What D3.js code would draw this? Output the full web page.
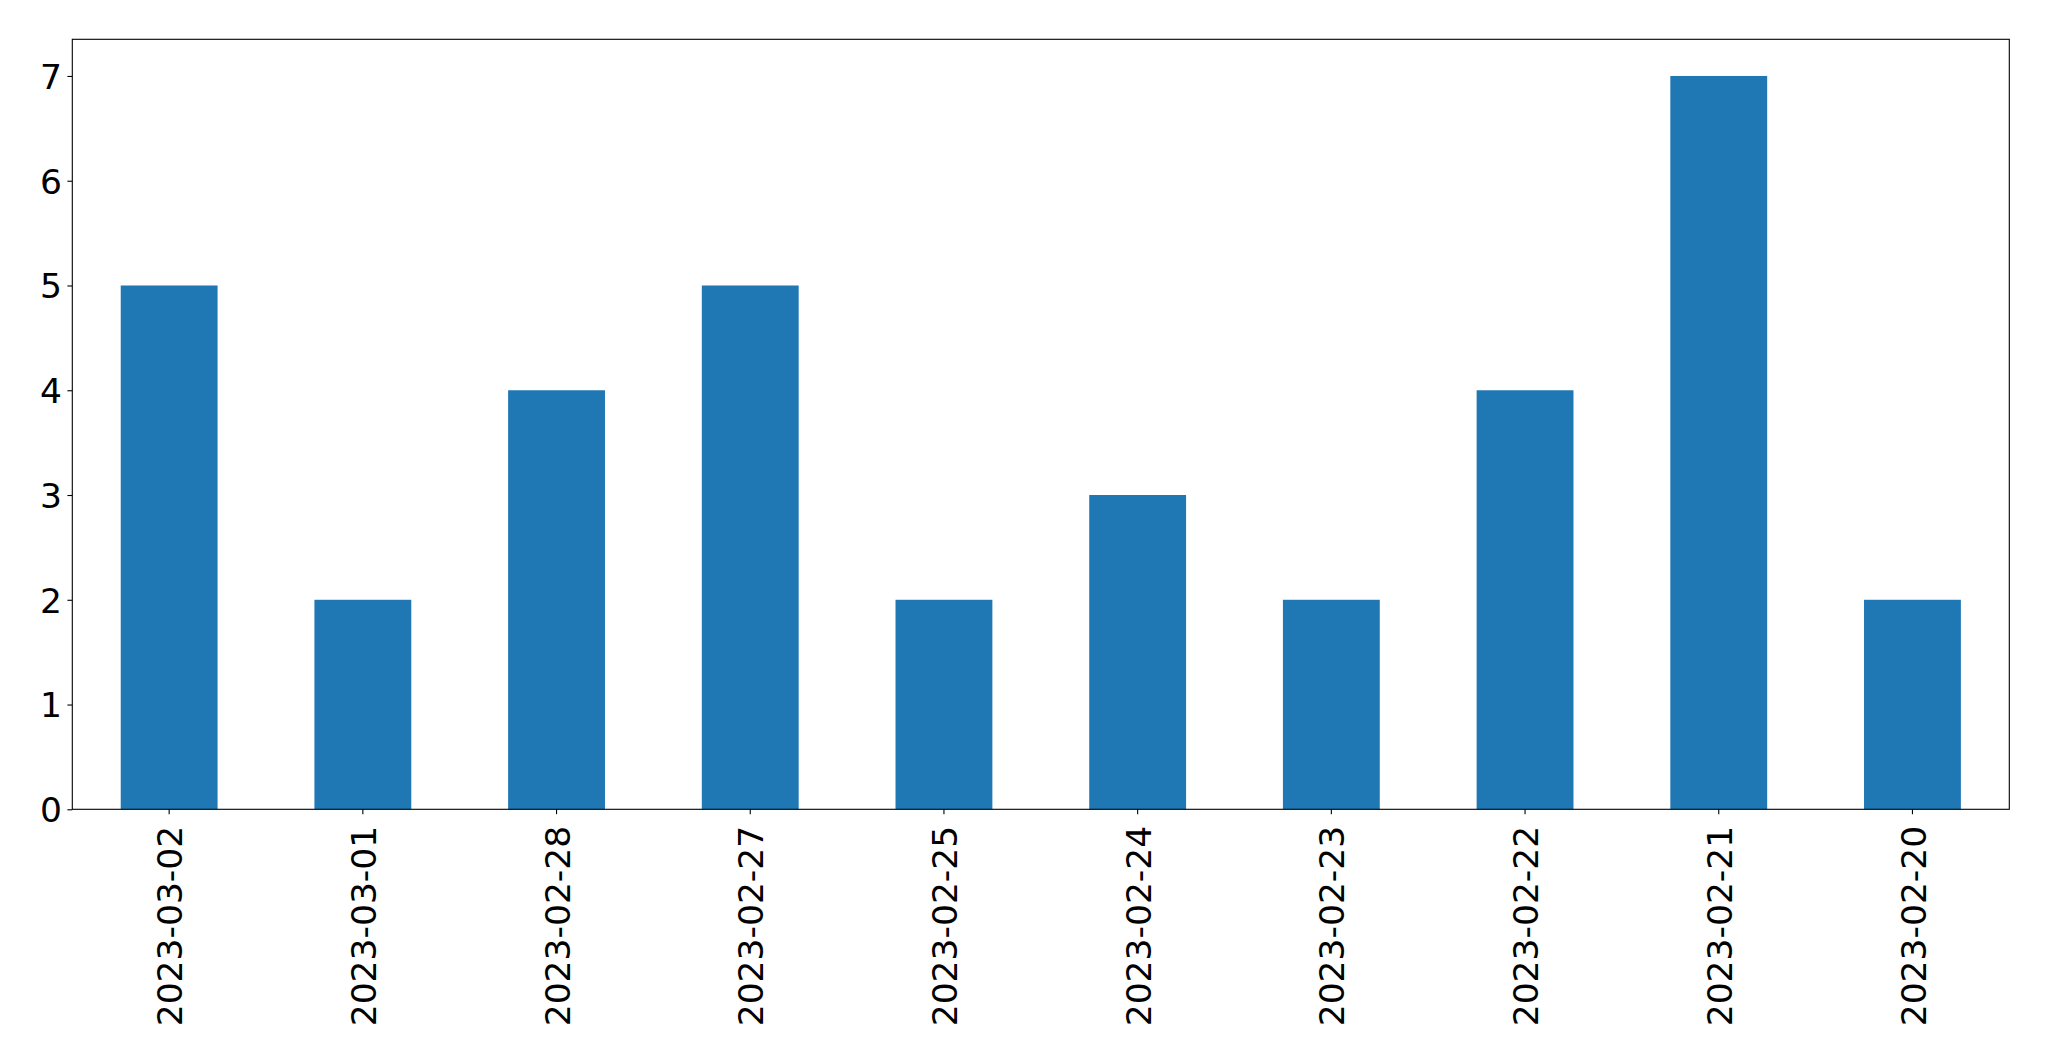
<!DOCTYPE html>
<html><head><meta charset="utf-8">
<script src="https://cdn.jsdelivr.net/npm/d3@7"></script>
<style>body{margin:0;background:#fff}svg{display:block}text{font-family:"DejaVu Sans",sans-serif}</style>
</head><body>
<script>
const categories = ["2023-03-02","2023-03-01","2023-02-28","2023-02-27","2023-02-25","2023-02-24","2023-02-23","2023-02-22","2023-02-21","2023-02-20"];
const values = [5,2,4,5,2,3,2,4,7,2];
const yTicks = [0,1,2,3,4,5,6,7];

const W = 2049, H = 1061;
const L = 72.3, R = 2009.3, T = 39.3, B = 809.3;
const svg = d3.select("body").append("svg").attr("width", W).attr("height", H);

const x = d3.scaleBand().domain(categories).range([L, R]).paddingInner(0.5).paddingOuter(0.25);
const y = d3.scaleLinear().domain([0, d3.max(values) * 1.05]).range([B, T]);

svg.append("g").selectAll("rect").data(values).join("rect")
  .attr("x", (d, i) => x(categories[i]))
  .attr("width", x.bandwidth())
  .attr("y", d => y(d))
  .attr("height", d => y(0) - y(d))
  .attr("fill", "#1f77b4");

const fs = 34.5;
// y axis
const ya = svg.append("g").attr("transform", `translate(${L},0)`)
  .call(d3.axisLeft(y).tickValues(yTicks).tickFormat(d3.format("d")).tickSize(4.9).tickPadding(4.9));
ya.select(".domain").remove();
ya.selectAll("line").attr("stroke", "#000").attr("stroke-width", 1.1);
ya.selectAll("text").attr("font-size", fs).attr("fill", "#000").attr("font-family", "DejaVu Sans").attr("dy", "0.36em").attr("x", -10.3);

// x axis
const xa = svg.append("g").attr("transform", `translate(0,${B})`)
  .call(d3.axisBottom(x).tickSize(4.9).tickPadding(4.9));
xa.select(".domain").remove();
xa.selectAll("line").attr("stroke", "#000").attr("stroke-width", 1.1);
xa.selectAll("text").attr("font-size", fs).attr("fill", "#000").attr("font-family", "DejaVu Sans")
  .attr("text-anchor", "end").attr("x", 0).attr("y", 0).attr("dy", "0.38em")
  .attr("transform", "translate(0,16.5) rotate(-90)");

// frame
svg.append("rect").attr("x", L).attr("y", T).attr("width", R - L).attr("height", B - T)
  .attr("fill", "none").attr("stroke", "#000").attr("stroke-width", 1.1);
</script>
</body></html>
